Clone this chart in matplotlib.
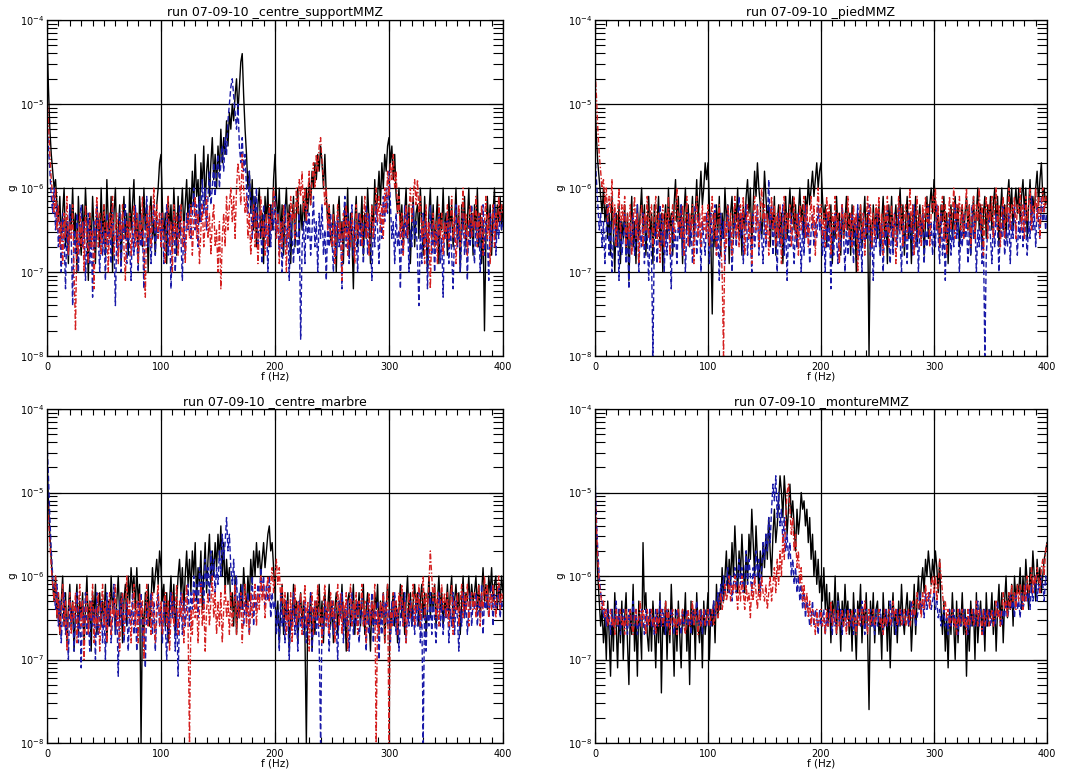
import numpy as np
import matplotlib
matplotlib.use("Agg")
import matplotlib.pyplot as plt
from matplotlib.ticker import LogLocator, MultipleLocator, LogFormatterMathtext, NullFormatter

# frequency bins (Hz), 1.25 Hz resolution
freq = np.linspace(0, 400, 321)

titles = ["run 07-09-10 _centre_supportMMZ", "run 07-09-10 _piedMMZ",
          "run 07-09-10 _centre_marbre", "run 07-09-10 _montureMMZ"]

# values: tenths of log10(g), e.g. -65 -> 10^-6.5 g ; 20 values per line = 25 Hz
p1_black = [
    -42, -48, -53, -56, -58, -60, -59, -62, -64, -61, -66, -63, -60, -67, -64, -69, -62, -65, -60, -66,
    -63, -70, -61, -65, -68, -62, -66, -60, -64, -71, -63, -67, -61, -65, -69, -62, -64, -67, -60, -66,
    -62, -68, -59, -64, -66, -61, -70, -63, -60, -67, -65, -62, -69, -64, -61, -66, -63, -68, -60, -65,
    -62, -59, -66, -63, -69, -61, -64, -67, -60, -65, -62, -70, -63, -61, -66, -64, -68, -62, -60, -57,
    -56, -62, -66, -63, -69, -61, -65, -62, -67, -60, -64, -68, -61, -66, -63, -60, -65, -62, -59, -64,
    -60, -63, -58, -62, -56, -61, -59, -64, -57, -60, -55, -62, -58, -56, -61, -57, -54, -59, -56, -60,
    -55, -58, -53, -57, -54, -56, -52, -55, -51, -53, -50, -52, -49, -47, -51, -48, -45, -44, -49, -53,
    -56, -60, -58, -63, -59, -65, -61, -67, -62, -60, -66, -63, -69, -61, -64, -60, -67, -62, -65, -59,
    -56, -61, -64, -60, -66, -62, -68, -63, -60, -65, -62, -69, -64, -61, -67, -63, -60, -66, -62, -65,
    -61, -64, -60, -63, -59, -62, -58, -60, -57, -59, -56, -58, -55, -57, -60, -56, -61, -64, -62, -66,
    -67, -62, -65, -70, -63, -61, -66, -64, -69, -62, -65, -60, -68, -63, -66, -72, -64, -61, -67, -63,
    -65, -61, -68, -63, -66, -60, -64, -69, -62, -65, -59, -63, -61, -58, -62, -57, -60, -56, -58, -55,
    -54, -57, -55, -59, -56, -61, -63, -60, -65, -62, -67, -63, -60, -66, -62, -69, -64, -61, -67, -63,
    -62, -66, -60, -64, -68, -61, -65, -70, -63, -60, -66, -62, -67, -64, -61, -69, -63, -65, -60, -66,
    -63, -68, -61, -65, -62, -67, -64, -60, -66, -63, -70, -62, -65, -61, -67, -64, -60, -66, -63, -68,
    -62, -65, -60, -67, -63, -69, -64, -77, -66, -61, -65, -62, -68, -63, -60, -66, -62, -64, -61, -65,
    -62]
p1_blue = [
    -52, -55, -58, -61, -63, -60, -65, -62, -67, -64, -70, -63, -66, -72, -64, -68, -62, -66, -74, -65,
    -68, -63, -70, -65, -62, -67, -64, -71, -66, -63, -69, -65, -73, -64, -67, -62, -66, -70, -64, -68,
    -65, -71, -63, -67, -64, -69, -62, -66, -74, -65, -68, -63, -70, -64, -66, -62, -69, -65, -67, -71,
    -64, -68, -62, -66, -70, -63, -67, -65, -72, -64, -61, -67, -63, -69, -65, -62, -68, -64, -66, -63,
    -67, -63, -69, -65, -62, -68, -64, -72, -66, -63, -70, -65, -67, -62, -66, -71, -64, -68, -63, -65,
    -62, -66, -63, -60, -65, -62, -67, -61, -64, -59, -63, -60, -65, -61, -58, -62, -60, -57, -61, -58,
    -56, -60, -57, -55, -58, -54, -56, -52, -50, -48, -47, -49, -51, -53, -50, -55, -57, -54, -58, -56,
    -60, -63, -58, -62, -66, -61, -64, -60, -67, -63, -65, -69, -62, -66, -64, -70, -63, -67, -62, -65,
    -61, -66, -63, -68, -64, -70, -65, -62, -67, -64, -71, -63, -66, -69, -64, -65, -68, -63, -78, -67,
    -64, -69, -62, -66, -63, -68, -65, -61, -67, -64, -70, -63, -66, -62, -68, -65, -71, -64, -67, -63,
    -66, -70, -64, -68, -63, -67, -65, -72, -64, -61, -67, -63, -69, -65, -62, -68, -64, -66, -70, -63,
    -67, -64, -69, -65, -62, -68, -63, -66, -71, -64, -67, -62, -65, -69, -63, -66, -61, -64, -60, -63,
    -58, -62, -66, -64, -69, -63, -67, -65, -72, -64, -68, -62, -66, -63, -70, -65, -67, -62, -66, -64,
    -68, -74, -65, -69, -63, -67, -64, -72, -66, -62, -68, -64, -70, -65, -67, -63, -69, -66, -73, -64,
    -66, -63, -69, -64, -68, -72, -65, -62, -67, -64, -70, -66, -63, -68, -65, -71, -64, -67, -62, -66,
    -69, -64, -67, -63, -70, -65, -62, -68, -64, -66, -71, -63, -67, -65, -62, -68, -64, -66, -63, -65,
    -64]
p1_red = [
    -49, -52, -56, -59, -61, -63, -60, -65, -62, -67, -64, -69, -63, -66, -61, -68, -64, -66, -62, -70,
    -77, -65, -68, -63, -67, -64, -70, -62, -66, -69, -63, -67, -65, -72, -64, -61, -67, -63, -68, -65,
    -62, -67, -64, -70, -63, -66, -61, -68, -65, -63, -69, -64, -66, -62, -67, -71, -64, -66, -63, -68,
    -65, -62, -67, -63, -69, -64, -66, -61, -68, -73, -63, -66, -62, -67, -64, -60, -65, -62, -66, -63,
    -67, -63, -66, -69, -64, -61, -67, -64, -70, -62, -66, -63, -68, -65, -62, -67, -64, -69, -65, -63,
    -66, -62, -68, -64, -61, -66, -63, -69, -65, -62, -67, -64, -61, -66, -63, -68, -64, -62, -67, -65,
    -70, -64, -72, -66, -63, -67, -61, -65, -62, -60, -64, -61, -66, -60, -57, -59, -62, -56, -60, -63,
    -61, -66, -63, -68, -64, -62, -67, -63, -69, -65, -61, -66, -64, -68, -63, -67, -62, -65, -63, -60,
    -62, -66, -63, -69, -64, -67, -62, -65, -70, -63, -66, -61, -64, -62, -66, -60, -63, -59, -61, -58,
    -63, -60, -64, -61, -58, -62, -59, -57, -60, -56, -58, -55, -54, -57, -59, -62, -60, -65, -62, -66,
    -67, -63, -69, -65, -62, -66, -64, -71, -63, -66, -62, -68, -64, -67, -63, -65, -69, -62, -66, -64,
    -63, -67, -64, -61, -66, -63, -68, -65, -62, -66, -63, -60, -64, -61, -65, -62, -66, -60, -63, -58,
    -61, -57, -59, -56, -60, -58, -63, -61, -66, -63, -68, -64, -62, -66, -63, -60, -64, -61, -59, -62,
    -59, -63, -61, -66, -64, -69, -62, -67, -64, -72, -65, -63, -67, -64, -69, -62, -66, -63, -68, -64,
    -66, -62, -67, -64, -61, -66, -63, -69, -65, -62, -67, -64, -60, -66, -63, -68, -64, -62, -66, -63,
    -65, -61, -67, -63, -66, -62, -68, -64, -61, -66, -63, -69, -64, -62, -67, -63, -65, -61, -64, -62,
    -63]

p2_black = [
    -50, -54, -57, -59, -61, -63, -60, -64, -62, -66, -63, -68, -61, -65, -70, -63, -67, -62, -69, -64,
    -66, -62, -68, -63, -71, -65, -61, -67, -64, -69, -62, -66, -63, -60, -65, -62, -68, -64, -61, -66,
    -63, -69, -62, -66, -64, -61, -67, -63, -70, -64, -62, -66, -60, -65, -63, -68, -62, -59, -64, -61,
    -66, -62, -69, -63, -60, -65, -62, -67, -64, -61, -66, -63, -59, -64, -61, -58, -62, -60, -57, -59,
    -57, -62, -66, -75, -63, -67, -62, -65, -61, -68, -63, -66, -60, -64, -62, -69, -63, -61, -66, -62,
    -64, -60, -66, -63, -68, -62, -65, -61, -59, -63, -60, -67, -62, -58, -61, -57, -60, -62, -66, -63,
    -58, -61, -64, -62, -67, -63, -65, -61, -68, -64, -62, -66, -63, -69, -64, -61, -66, -63, -60, -64,
    -61, -65, -62, -67, -63, -60, -64, -62, -66, -61, -63, -59, -62, -60, -58, -61, -59, -57, -60, -58,
    -57, -61, -64, -62, -67, -63, -65, -62, -69, -64, -66, -61, -65, -63, -68, -62, -66, -64, -61, -65,
    -63, -68, -62, -66, -64, -70, -63, -65, -62, -67, -64, -61, -66, -63, -80, -64, -67, -62, -65, -63,
    -66, -62, -68, -64, -61, -66, -63, -69, -62, -65, -61, -67, -64, -62, -66, -63, -60, -65, -62, -68,
    -64, -61, -66, -63, -69, -62, -65, -61, -67, -64, -62, -66, -63, -68, -64, -61, -66, -62, -60, -63,
    -59, -62, -65, -63, -67, -62, -64, -61, -66, -63, -69, -64, -62, -66, -63, -61, -65, -62, -67, -64,
    -62, -66, -63, -61, -65, -62, -68, -64, -61, -66, -63, -60, -65, -62, -67, -63, -61, -66, -62, -64,
    -61, -65, -62, -60, -64, -61, -67, -63, -60, -65, -62, -66, -61, -59, -63, -60, -65, -62, -60, -63,
    -60, -64, -61, -59, -63, -60, -66, -62, -59, -64, -61, -63, -60, -58, -62, -59, -57, -61, -60, -62,
    -61]
p2_blue = [
    -56, -59, -62, -65, -63, -67, -64, -69, -65, -62, -68, -64, -70, -66, -63, -67, -65, -71, -64, -68,
    -66, -63, -69, -65, -72, -64, -67, -63, -68, -66, -62, -70, -65, -67, -63, -69, -64, -66, -71, -65,
    -68, -80, -66, -64, -69, -65, -62, -67, -63, -70, -65, -68, -64, -66, -72, -63, -67, -65, -69, -64,
    -66, -62, -68, -64, -70, -65, -63, -67, -64, -69, -66, -62, -68, -65, -63, -70, -64, -66, -68, -63,
    -65, -69, -63, -67, -64, -62, -68, -65, -71, -63, -66, -64, -69, -65, -62, -67, -64, -70, -66, -63,
    -67, -64, -61, -66, -63, -69, -65, -62, -68, -64, -66, -70, -63, -67, -65, -62, -68, -64, -66, -69,
    -63, -67, -64, -59, -65, -62, -68, -64, -66, -70, -63, -67, -65, -62, -68, -64, -71, -65, -67, -63,
    -66, -69, -64, -67, -63, -65, -70, -64, -68, -62, -66, -64, -69, -65, -63, -67, -64, -66, -62, -65,
    -64, -68, -65, -70, -63, -67, -64, -72, -65, -68, -63, -66, -69, -64, -67, -62, -66, -70, -64, -68,
    -65, -67, -63, -69, -64, -66, -62, -68, -65, -70, -63, -67, -64, -66, -62, -68, -65, -71, -64, -67,
    -63, -66, -68, -64, -70, -65, -67, -62, -66, -69, -64, -68, -63, -65, -67, -62, -66, -70, -64, -67,
    -65, -69, -63, -66, -64, -68, -62, -67, -65, -70, -64, -66, -63, -69, -65, -67, -62, -66, -64, -68,
    -64, -67, -62, -66, -69, -63, -68, -65, -71, -64, -66, -63, -68, -65, -67, -62, -66, -64, -70, -65,
    -67, -63, -66, -64, -69, -65, -68, -62, -66, -64, -70, -65, -67, -63, -69, -66, -80, -68, -65, -63,
    -66, -69, -64, -67, -63, -65, -70, -64, -66, -62, -68, -65, -67, -63, -69, -64, -66, -62, -65, -68,
    -64, -66, -63, -67, -62, -65, -68, -64, -66, -61, -65, -63, -67, -62, -64, -66, -61, -64, -62, -65,
    -63]
p2_red = [
    -46, -49, -53, -56, -58, -60, -59, -62, -60, -64, -61, -63, -59, -65, -62, -67, -63, -60, -66, -62,
    -64, -61, -67, -63, -66, -62, -68, -64, -61, -66, -63, -69, -64, -62, -67, -63, -65, -61, -66, -63,
    -62, -67, -64, -61, -66, -63, -69, -65, -62, -67, -63, -65, -61, -68, -64, -62, -66, -63, -60, -65,
    -63, -66, -62, -68, -64, -61, -67, -63, -65, -62, -69, -64, -61, -66, -63, -67, -62, -65, -63, -66,
    -62, -67, -64, -61, -66, -63, -68, -64, -62, -66, -70, -80, -64, -67, -62, -65, -63, -68, -64, -61,
    -66, -63, -67, -62, -65, -61, -68, -64, -62, -66, -63, -69, -64, -61, -65, -62, -67, -63, -60, -64,
    -62, -66, -63, -68, -64, -61, -65, -62, -67, -63, -66, -62, -69, -64, -61, -66, -63, -65, -62, -67,
    -64, -61, -66, -63, -68, -62, -65, -63, -61, -66, -62, -67, -64, -61, -65, -62, -68, -63, -60, -64,
    -62, -66, -63, -67, -61, -64, -62, -68, -63, -65, -61, -66, -63, -69, -64, -62, -66, -63, -65, -61,
    -66, -63, -67, -62, -65, -63, -70, -64, -62, -66, -63, -68, -64, -61, -65, -62, -67, -63, -66, -62,
    -64, -61, -66, -63, -68, -62, -65, -61, -67, -64, -62, -66, -63, -69, -64, -61, -65, -62, -67, -63,
    -62, -66, -63, -60, -65, -62, -68, -64, -61, -66, -63, -67, -62, -65, -61, -64, -62, -67, -63, -61,
    -63, -60, -65, -62, -67, -63, -61, -66, -62, -68, -64, -61, -65, -63, -60, -66, -62, -64, -61, -65,
    -62, -66, -63, -60, -65, -62, -67, -63, -61, -66, -62, -64, -60, -65, -62, -68, -63, -61, -66, -62,
    -64, -61, -66, -62, -60, -65, -62, -67, -63, -61, -66, -62, -64, -60, -65, -62, -63, -61, -66, -62,
    -63, -60, -65, -62, -66, -61, -64, -62, -60, -65, -62, -63, -60, -64, -61, -66, -62, -60, -63, -61,
    -62]

p3_black = [
    -46, -51, -55, -58, -61, -63, -60, -65, -62, -67, -63, -60, -66, -62, -68, -64, -61, -66, -63, -69,
    -64, -61, -67, -63, -65, -62, -68, -64, -60, -66, -63, -69, -62, -65, -61, -67, -64, -62, -66, -63,
    -65, -61, -68, -63, -66, -60, -64, -62, -67, -63, -60, -65, -62, -68, -63, -61, -66, -60, -63, -59,
    -62, -60, -64, -59, -63, -61, -80, -64, -67, -62, -65, -61, -66, -63, -59, -62, -60, -58, -61, -57,
    -59, -63, -61, -66, -62, -68, -63, -60, -65, -61, -67, -63, -60, -58, -62, -59, -64, -60, -57, -61,
    -58, -62, -57, -60, -56, -63, -59, -61, -57, -64, -60, -56, -62, -58, -55, -61, -57, -60, -56, -59,
    -55, -58, -54, -60, -56, -62, -58, -61, -59, -64, -62, -66, -60, -67, -63, -65, -61, -64, -59, -62,
    -64, -60, -63, -58, -61, -57, -60, -56, -59, -57, -60, -58, -56, -59, -57, -55, -54, -57, -56, -59,
    -62, -66, -63, -68, -64, -61, -67, -63, -65, -62, -69, -64, -66, -61, -65, -63, -68, -64, -62, -66,
    -63, -67, -80, -64, -66, -62, -69, -64, -67, -63, -65, -61, -66, -63, -68, -62, -65, -64, -61, -66,
    -63, -68, -64, -62, -67, -63, -65, -61, -66, -64, -69, -63, -62, -66, -64, -61, -67, -63, -65, -62,
    -66, -63, -61, -67, -64, -62, -65, -69, -63, -66, -62, -64, -61, -67, -63, -65, -62, -68, -64, -61,
    -63, -67, -64, -62, -66, -63, -68, -64, -61, -65, -62, -67, -63, -60, -65, -62, -66, -63, -61, -64,
    -62, -66, -63, -61, -65, -62, -67, -64, -60, -65, -62, -64, -61, -66, -63, -60, -64, -62, -66, -63,
    -64, -61, -65, -62, -60, -66, -63, -61, -64, -62, -67, -63, -60, -65, -62, -63, -60, -64, -61, -63,
    -62, -60, -64, -61, -65, -62, -59, -63, -61, -64, -60, -62, -59, -63, -61, -60, -64, -61, -63, -60,
    -62]
p3_blue = [
    -44, -48, -53, -57, -60, -62, -64, -61, -66, -63, -68, -64, -62, -67, -65, -70, -63, -66, -64, -69,
    -65, -62, -68, -64, -71, -63, -66, -62, -67, -65, -69, -63, -66, -64, -70, -62, -67, -65, -63, -68,
    -64, -70, -62, -66, -63, -68, -65, -61, -67, -64, -72, -63, -66, -62, -68, -65, -63, -69, -64, -66,
    -62, -67, -64, -69, -63, -66, -62, -68, -65, -71, -63, -66, -64, -62, -67, -63, -69, -65, -62, -66,
    -64, -68, -63, -66, -70, -64, -67, -62, -65, -63, -69, -64, -72, -65, -62, -67, -63, -66, -64, -61,
    -66, -62, -64, -60, -63, -61, -65, -59, -62, -60, -64, -58, -61, -59, -63, -57, -60, -58, -62, -59,
    -61, -57, -60, -55, -58, -56, -53, -57, -55, -59, -61, -58, -63, -60, -65, -62, -64, -61, -66, -63,
    -65, -62, -67, -63, -60, -66, -62, -64, -61, -63, -59, -62, -60, -64, -61, -63, -60, -65, -62, -64,
    -63, -67, -64, -69, -62, -66, -64, -68, -63, -65, -70, -64, -66, -62, -67, -64, -69, -63, -66, -65,
    -67, -63, -68, -64, -66, -62, -69, -65, -63, -67, -64, -68, -80, -65, -67, -63, -66, -64, -69, -65,
    -63, -67, -64, -66, -70, -63, -65, -62, -68, -64, -66, -63, -69, -65, -62, -67, -64, -66, -63, -68,
    -65, -62, -66, -64, -69, -63, -67, -65, -62, -68, -64, -66, -63, -70, -64, -67, -62, -65, -63, -66,
    -64, -68, -63, -66, -62, -67, -64, -69, -65, -63, -66, -62, -68, -64, -66, -63, -66, -64, -67, -63,
    -66, -62, -68, -64, -80, -63, -69, -64, -66, -62, -67, -63, -65, -68, -64, -62, -66, -63, -67, -64,
    -65, -63, -68, -64, -66, -62, -67, -63, -65, -69, -64, -66, -62, -65, -63, -67, -64, -62, -66, -63,
    -64, -62, -66, -63, -65, -61, -67, -63, -64, -62, -65, -63, -61, -66, -62, -64, -63, -61, -65, -63,
    -64]
p3_red = [
    -50, -53, -56, -59, -61, -63, -60, -65, -62, -67, -64, -61, -66, -63, -69, -64, -62, -67, -63, -65,
    -62, -68, -64, -61, -66, -63, -70, -64, -62, -67, -63, -65, -61, -68, -64, -66, -62, -69, -64, -61,
    -66, -63, -68, -64, -62, -67, -63, -65, -61, -66, -64, -69, -63, -62, -67, -64, -60, -65, -63, -68,
    -64, -61, -66, -63, -68, -62, -65, -63, -70, -64, -61, -66, -63, -67, -62, -65, -68, -63, -61, -66,
    -63, -67, -64, -62, -66, -63, -69, -65, -62, -66, -64, -61, -67, -63, -65, -62, -68, -64, -61, -66,
    -80, -64, -67, -62, -65, -63, -68, -64, -61, -66, -63, -69, -64, -62, -66, -63, -60, -65, -62, -67,
    -63, -66, -62, -68, -64, -61, -65, -63, -67, -62, -66, -64, -61, -67, -63, -65, -62, -68, -64, -61,
    -66, -63, -67, -62, -65, -63, -61, -66, -62, -64, -60, -63, -61, -65, -62, -60, -63, -61, -59, -62,
    -60, -58, -61, -59, -63, -61, -65, -62, -67, -63, -66, -62, -68, -64, -61, -66, -63, -65, -62, -67,
    -64, -61, -66, -63, -69, -64, -62, -67, -63, -65, -61, -66, -64, -68, -63, -61, -66, -63, -67, -62,
    -65, -63, -68, -64, -61, -66, -62, -67, -63, -65, -62, -69, -64, -61, -66, -63, -65, -62, -67, -63,
    -64, -61, -66, -63, -68, -64, -62, -66, -63, -65, -61, -80, -64, -67, -63, -65, -62, -68, -64, -61,
    -80, -64, -66, -62, -65, -63, -67, -62, -64, -61, -66, -63, -68, -64, -62, -65, -63, -61, -66, -62,
    -64, -61, -66, -63, -60, -65, -62, -64, -61, -57, -60, -63, -61, -65, -62, -66, -63, -61, -64, -62,
    -65, -62, -66, -63, -61, -67, -63, -64, -62, -66, -63, -61, -65, -62, -64, -61, -66, -63, -62, -64,
    -62, -65, -63, -61, -66, -62, -64, -60, -63, -61, -65, -62, -64, -61, -63, -65, -62, -60, -64, -62,
    -63]

p4_black = [
    -52, -56, -60, -63, -66, -64, -68, -65, -70, -63, -67, -72, -64, -69, -62, -66, -71, -64, -68, -63,
    -70, -65, -62, -68, -73, -64, -67, -61, -69, -65, -72, -63, -66, -70, -56, -64, -62, -67, -69, -64,
    -69, -63, -66, -71, -64, -68, -62, -74, -65, -67, -63, -70, -64, -68, -61, -66, -72, -64, -69, -63,
    -67, -71, -64, -66, -62, -69, -65, -73, -63, -67, -64, -70, -62, -66, -68, -64, -71, -63, -67, -65,
    -62, -70, -64, -66, -63, -68, -61, -65, -62, -64, -59, -63, -60, -57, -62, -58, -61, -56, -60, -54,
    -58, -62, -57, -60, -55, -59, -62, -57, -61, -55, -58, -52, -56, -60, -54, -58, -62, -57, -60, -56,
    -59, -55, -58, -53, -57, -60, -55, -52, -56, -54, -51, -48, -50, -53, -48, -51, -55, -52, -49, -53,
    -51, -54, -57, -52, -55, -53, -50, -52, -51, -54, -52, -56, -53, -58, -55, -60, -57, -61, -58, -62,
    -60, -63, -59, -64, -61, -66, -62, -68, -63, -65, -60, -67, -62, -64, -69, -63, -66, -61, -65, -63,
    -67, -64, -69, -62, -66, -70, -63, -65, -61, -68, -64, -66, -62, -67, -76, -63, -66, -62, -68, -64,
    -63, -67, -65, -70, -62, -66, -64, -69, -63, -71, -65, -62, -67, -64, -68, -63, -66, -61, -65, -67,
    -64, -62, -66, -63, -69, -65, -61, -67, -63, -60, -64, -61, -59, -62, -58, -60, -57, -59, -61, -58,
    -60, -57, -59, -62, -58, -64, -67, -63, -69, -65, -71, -64, -67, -62, -66, -70, -63, -68, -64, -66,
    -62, -67, -64, -72, -65, -69, -63, -66, -64, -70, -62, -68, -65, -63, -67, -64, -69, -62, -66, -64,
    -65, -62, -67, -63, -69, -64, -61, -66, -62, -68, -63, -60, -65, -62, -64, -61, -66, -60, -63, -61,
    -62, -59, -64, -60, -63, -58, -61, -64, -59, -62, -57, -60, -63, -58, -61, -59, -62, -60, -58, -57,
    -56]
p4_blue = [
    -48, -53, -57, -60, -62, -63, -65, -64, -66, -64, -65, -67, -64, -66, -65, -63, -66, -64, -67, -65,
    -64, -66, -65, -67, -64, -66, -65, -63, -66, -64, -67, -65, -66, -64, -65, -67, -64, -66, -65, -64,
    -66, -65, -67, -64, -66, -65, -63, -66, -64, -65, -67, -64, -66, -65, -64, -66, -67, -65, -64, -66,
    -65, -67, -64, -66, -65, -64, -66, -65, -67, -64, -66, -65, -63, -65, -66, -64, -67, -65, -64, -66,
    -65, -64, -66, -65, -63, -65, -64, -62, -64, -61, -63, -60, -62, -61, -59, -62, -60, -63, -61, -59,
    -62, -60, -58, -61, -59, -62, -60, -57, -61, -58, -60, -62, -59, -61, -57, -60, -58, -62, -59, -56,
    -58, -55, -57, -53, -56, -52, -49, -51, -48, -53, -50, -54, -52, -56, -53, -57, -55, -58, -56, -60,
    -58, -61, -59, -62, -60, -63, -61, -64, -62, -65, -63, -64, -66, -65, -63, -66, -64, -65, -67, -64,
    -66, -65, -64, -67, -65, -66, -64, -65, -67, -64, -66, -65, -63, -66, -64, -67, -65, -64, -66, -65,
    -64, -66, -65, -67, -64, -66, -65, -64, -66, -63, -65, -67, -64, -66, -65, -64, -66, -65, -67, -64,
    -66, -65, -64, -66, -67, -65, -64, -66, -65, -63, -66, -64, -65, -67, -64, -66, -65, -64, -66, -65,
    -65, -64, -66, -65, -63, -65, -64, -66, -65, -64, -62, -64, -63, -65, -62, -64, -63, -62, -64, -63,
    -62, -64, -63, -65, -64, -66, -65, -64, -66, -65, -67, -64, -66, -65, -64, -66, -65, -67, -64, -66,
    -65, -64, -66, -65, -67, -64, -66, -65, -64, -66, -65, -63, -66, -64, -65, -67, -64, -66, -65, -64,
    -66, -65, -64, -66, -65, -63, -65, -64, -66, -64, -65, -63, -65, -64, -62, -64, -63, -65, -62, -64,
    -63, -65, -62, -64, -63, -61, -63, -62, -64, -61, -63, -62, -60, -63, -61, -62, -60, -61, -63, -60,
    -61]
p4_red = [
    -49, -54, -58, -61, -62, -64, -63, -65, -64, -66, -65, -64, -66, -65, -67, -64, -66, -65, -64, -66,
    -65, -67, -64, -66, -65, -64, -66, -67, -65, -64, -66, -65, -63, -66, -64, -65, -67, -64, -66, -65,
    -64, -66, -65, -67, -64, -66, -65, -64, -66, -65, -63, -66, -64, -67, -65, -64, -66, -65, -67, -64,
    -66, -65, -64, -66, -67, -65, -64, -66, -65, -63, -66, -64, -65, -67, -64, -66, -65, -64, -66, -65,
    -64, -66, -65, -64, -66, -65, -63, -65, -64, -62, -64, -63, -61, -63, -62, -60, -63, -61, -62, -60,
    -62, -64, -61, -63, -60, -62, -64, -61, -63, -62, -65, -61, -63, -60, -62, -64, -61, -63, -60, -62,
    -63, -61, -64, -62, -60, -63, -61, -59, -62, -58, -61, -57, -60, -55, -58, -53, -50, -49, -52, -55,
    -53, -57, -55, -59, -57, -61, -59, -63, -61, -64, -62, -65, -63, -66, -64, -65, -67, -64, -66, -65,
    -64, -66, -65, -67, -64, -66, -65, -63, -66, -64, -65, -67, -64, -66, -65, -64, -66, -65, -67, -64,
    -66, -65, -64, -66, -65, -67, -64, -66, -65, -64, -66, -63, -65, -67, -64, -66, -65, -64, -66, -65,
    -65, -64, -66, -65, -67, -64, -66, -65, -64, -66, -65, -63, -65, -64, -66, -65, -64, -66, -65, -64,
    -66, -65, -64, -66, -65, -63, -65, -64, -62, -64, -63, -65, -62, -64, -61, -63, -62, -64, -61, -60,
    -62, -60, -63, -61, -58, -60, -62, -64, -63, -65, -64, -66, -65, -64, -66, -65, -67, -64, -66, -65,
    -64, -66, -65, -67, -64, -66, -65, -64, -66, -65, -63, -66, -64, -65, -67, -64, -66, -65, -64, -66,
    -65, -64, -66, -65, -63, -65, -64, -66, -64, -62, -64, -63, -65, -62, -64, -61, -63, -62, -64, -61,
    -63, -61, -62, -64, -61, -63, -60, -62, -61, -59, -62, -60, -61, -59, -60, -62, -59, -58, -60, -57,
    -56]

panels = [(p1_black, p1_blue, p1_red), (p2_black, p2_blue, p2_red),
          (p3_black, p3_blue, p3_red), (p4_black, p4_blue, p4_red)]


def to_g(v):
    return 10.0 ** (np.asarray(v, dtype=float) / 10.0)


fig = plt.figure(figsize=(10.84, 7.72), dpi=100, facecolor="white")
W, H = 1084.0, 772.0
boxes = [(47, 20, 503, 356), (595, 20, 1047, 356),
         (47, 409, 503, 743), (595, 409, 1047, 743)]

for (x0, y0, x1, y1), title, (bk, bl, rd) in zip(boxes, titles, panels):
    ax = fig.add_axes([x0 / W, 1 - y1 / H, (x1 - x0) / W, (y1 - y0) / H])
    ax.plot(freq, to_g(bk), color="black", lw=1.0, ls="-")
    ax.plot(freq, to_g(bl), color="#1a1aa8", lw=1.0, ls=(0, (4, 2)))
    ax.plot(freq, to_g(rd), color="#d42020", lw=1.0, ls=(0, (4, 1.5, 1, 1.5)))
    ax.set_yscale("log")
    ax.set_xlim(0, 400)
    ax.set_ylim(1e-8, 1e-4)
    ax.xaxis.set_major_locator(MultipleLocator(100))
    ax.xaxis.set_minor_locator(MultipleLocator(10))
    ax.yaxis.set_major_locator(LogLocator(base=10, numticks=10))
    ax.yaxis.set_minor_locator(LogLocator(base=10, subs=np.arange(2, 10), numticks=10))
    ax.yaxis.set_major_formatter(LogFormatterMathtext())
    ax.yaxis.set_minor_formatter(NullFormatter())
    ax.tick_params(which="both", direction="in", top=True, right=True,
                   labelsize=7, width=0.8, color="black")
    ax.tick_params(axis="x", which="major", length=8, pad=4)
    ax.tick_params(axis="x", which="minor", length=4)
    ax.tick_params(axis="y", which="major", length=10, pad=2)
    ax.tick_params(axis="y", which="minor", length=7)
    ax.grid(True, which="major", color="black", lw=0.9)
    for s in ax.spines.values():
        s.set_linewidth(0.9)
    ax.set_title(title, fontsize=9, pad=3)
    ax.set_xlabel("f (Hz)", fontsize=7.5, labelpad=0)
    ax.set_ylabel("g", fontsize=7.5, labelpad=2)

fig.savefig("out.png", dpi=100, facecolor="white")
